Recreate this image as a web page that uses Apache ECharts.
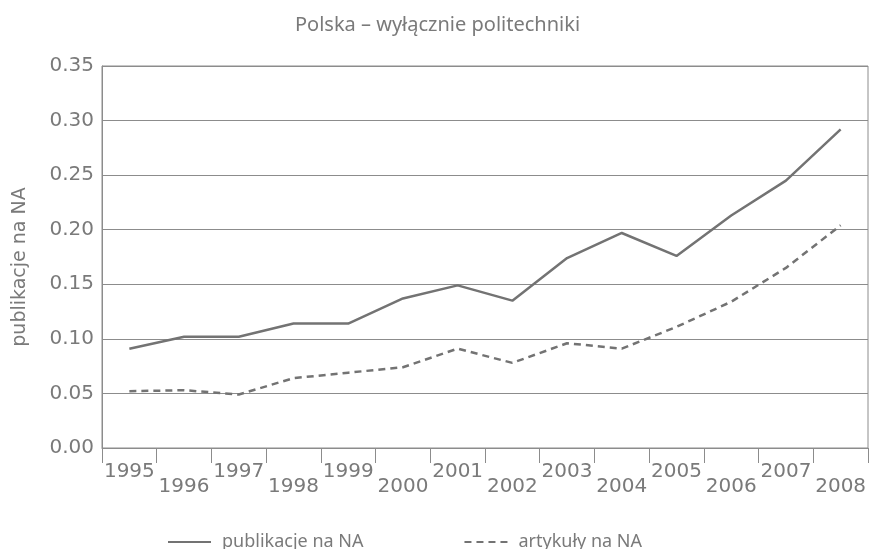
<!DOCTYPE html>
<html>
<head>
<meta charset="utf-8">
<script src="https://cdn.jsdelivr.net/npm/echarts@6/dist/echarts.min.js"></script>
<style>
  html, body { margin: 0; padding: 0; background: #fff; }
  #chart { width: 875px; height: 549px; }
</style>
</head>
<body>
<div id="chart"></div>
<script>
var years = ['1995', '1996', '1997', '1998', '1999', '2000', '2001', '2002', '2003', '2004', '2005', '2006', '2007', '2008']
var publikacje = [0.091, 0.102, 0.102, 0.114, 0.114, 0.137, 0.149, 0.135, 0.174, 0.197, 0.176, 0.213, 0.245, 0.292]
var artykuly = [0.052, 0.053, 0.049, 0.064, 0.069, 0.074, 0.091, 0.078, 0.096, 0.091, 0.111, 0.134, 0.165, 0.204]
var yTicks = ['0.00', '0.05', '0.10', '0.15', '0.20', '0.25', '0.30', '0.35']

var textColor = '#7a7a7a'
var lineColor = '#737373'
var gridColor = '#8c8c8c'

var myChart = echarts.init(document.getElementById('chart'))
var option = {
    animation: false,
    title: {
        text: 'Polska – wyłącznie politechniki',
        left: 'center',
        top: 10,
        textStyle: {
            color: textColor,
            fontFamily: 'Noto Sans',
            fontSize: 20,
            fontWeight: 'normal'
        }
    },
    legend: {
        left: 162,
        top: 528,
        itemWidth: 43,
        itemHeight: 14,
        itemGap: 100,
        itemStyle: { opacity: 0 },
        textStyle: {
            color: textColor,
            fontFamily: 'Noto Sans',
            fontSize: 18,
            padding: [0, 0, 0, 6]
        },
        data: ['publikacje na NA', 'artykuły na NA']
    },
    grid: {
        left: 102,
        right: 7,
        top: 66,
        bottom: 101,
        show: true,
        borderColor: gridColor,
        borderWidth: 1
    },
    xAxis: {
        type: 'category',
        data: years,
        boundaryGap: true,
        axisLine: { lineStyle: { color: gridColor } },
        axisTick: { show: true, length: 15, interval: 0, lineStyle: { color: gridColor } },
        axisLabel: {
            interval: 0,
            color: textColor,
            fontFamily: 'DejaVu Sans',
            fontSize: 20,
            lineHeight: 15,
            margin: 16,
            formatter: function (v, i) {
                return i % 2 ? '\n' + v : v
            }
        }
    },
    yAxis: {
        type: 'value',
        min: 0,
        max: 0.35,
        interval: 0.05,
        name: 'publikacje na NA',
        nameLocation: 'middle',
        nameRotate: 90,
        nameGap: 72,
        nameTextStyle: {
            color: textColor,
            fontFamily: 'DejaVu Sans',
            fontSize: 19,
            padding: [0, 20, 0, 0]
        },
        axisLine: { show: true, lineStyle: { color: gridColor } },
        axisTick: { show: false },
        axisLabel: {
            color: textColor,
            fontFamily: 'DejaVu Sans',
            fontSize: 20,
            margin: 8,
            formatter: function (v) {
                return yTicks[Math.round(v / 0.05)]
            }
        },
        splitLine: { lineStyle: { color: gridColor } }
    },
    series: [
        {
            name: 'publikacje na NA',
            type: 'line',
            data: publikacje,
            symbol: 'none',
            itemStyle: { color: lineColor },
            lineStyle: { color: lineColor, width: 2.5 }
        },
        {
            name: 'artykuły na NA',
            type: 'line',
            data: artykuly,
            symbol: 'none',
            itemStyle: { color: lineColor },
            lineStyle: { color: lineColor, width: 2.5, type: [7, 5] }
        }
    ]
}
myChart.setOption(option)
</script>
</body>
</html>
